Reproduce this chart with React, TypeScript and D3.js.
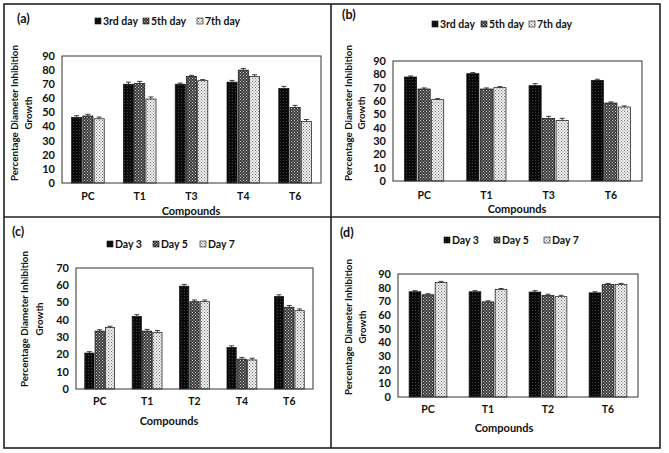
import * as d3 from "d3"

// categories per panel
const catsA = ["PC", "T1", "T3", "T4", "T6"]
const catsB = ["PC", "T1", "T3", "T6"]
const catsC = ["PC", "T1", "T2", "T4", "T6"]
const catsD = ["PC", "T1", "T2", "T6"]

// series names
const namesAB = ["3rd day", "5th day", "7th day"]
const namesCD = ["Day 3", "Day 5", "Day 7"]

// (a)
const a3 = [46.5, 70, 70, 71.5, 67]
const a5 = [47.5, 70.5, 75.5, 80, 53.5]
const a7 = [45.5, 59.5, 72.5, 75.5, 43.5]
const aErr = [1.2, 1.5, 0.8, 1.2, 1.5]

// (b)
const b3 = [78, 80.5, 71.5, 75.5]
const b5 = [69, 69, 47, 58.5]
const b7 = [61, 70, 45.5, 55.5]
const bErr = [0.8, 0.8, 1.5, 0.8]

// (c)
const c3 = [20.8, 42, 59.5, 24, 53.5]
const c5 = [33.5, 33.5, 50.5, 17.3, 47.3]
const c7 = [35.5, 32.8, 50.5, 16.8, 45.3]
const cErr = [0.8, 1, 1, 1, 1]

// (d)
const d3v = [77, 77, 76.8, 76.2]
const d5 = [74.8, 69.6, 74.2, 82.3]
const d7 = [83.8, 78.6, 73.4, 82.3]
const dErr = [0.8, 0.8, 1, 0.8]

const ticks90 = [0, 10, 20, 30, 40, 50, 60, 70, 80, 90]
const ticks70 = [0, 10, 20, 30, 40, 50, 60, 70]

const FONT = "Lato, 'DejaVu Sans', sans-serif"
const fills = ["url(#p3)", "url(#p5)", "url(#p7)"]

type Panel = {
  label: string
  labelPos: [number, number]
  cats: string[]
  series: number[][]
  err: number[]
  names: string[]
  ticks: number[]
  plot: { x0: number; x1: number; y0: number; y1: number }
  legendY: number
  legendX: number[]
  catY: number
  titlePos: [number, number]
  yTitle: { x: [number, number]; y: number }
}

const panels: Panel[] = [
  {
    label: "(a)", labelPos: [17, 23], cats: catsA, series: [a3, a5, a7], err: aErr, names: namesAB, ticks: ticks90,
    plot: { x0: 62, x1: 321, y0: 56, y1: 183 }, legendY: 21, legendX: [95, 143, 197],
    catY: 200, titlePos: [191, 215], yTitle: { x: [15, 29], y: 113 },
  },
  {
    label: "(b)", labelPos: [342, 19], cats: catsB, series: [b3, b5, b7], err: bErr, names: namesAB, ticks: ticks90,
    plot: { x0: 393, x1: 642, y0: 61, y1: 181 }, legendY: 24, legendX: [432, 481, 529],
    catY: 199, titlePos: [517, 213], yTitle: { x: [349, 362], y: 113 },
  },
  {
    label: "(c)", labelPos: [12, 236], cats: catsC, series: [c3, c5, c7], err: cErr, names: namesCD, ticks: ticks70,
    plot: { x0: 76, x1: 313, y0: 268, y1: 389 }, legendY: 244, legendX: [107, 153, 200],
    catY: 405, titlePos: [169, 425], yTitle: { x: [25, 40], y: 319 },
  },
  {
    label: "(d)", labelPos: [340, 237], cats: catsD, series: [d3v, d5, d7], err: dErr, names: namesCD, ticks: ticks90,
    plot: { x0: 398, x1: 638, y0: 274, y1: 397 }, legendY: 240, legendX: [444, 494, 544],
    catY: 413, titlePos: [504, 432], yTitle: { x: [349, 363], y: 327 },
  },
]

function ChartPanel({ p }: { p: Panel }) {
  const { x0, x1, y0, y1 } = p.plot
  const x = d3.scaleBand<string>().domain(p.cats).range([x0, x1]).paddingInner(0.37).paddingOuter(0.185)
  const xs = d3.scaleBand<number>().domain([0, 1, 2]).range([0, x.bandwidth()]).paddingInner(0.1)
  const y = d3.scaleLinear().domain([0, p.ticks[p.ticks.length - 1]]).range([y1, y0])

  return (
    <g fontFamily={FONT} fill="#111" fontWeight="bold">
      <text x={p.labelPos[0]} y={p.labelPos[1]} fontSize={12.5}>{p.label}</text>

      {/* legend */}
      {p.names.map((n, i) => (
        <g key={n}>
          <rect x={p.legendX[i]} y={p.legendY - 3} width={6} height={6} fill={fills[i]} stroke="#111" strokeWidth={0.6} />
          <text x={p.legendX[i] + 8} y={p.legendY + 3.7} fontSize={10.5}>{n}</text>
        </g>
      ))}

      {/* y axis title */}
      <g transform={`translate(${p.yTitle.x[0]},${p.yTitle.y}) rotate(-90)`}>
        <text textAnchor="middle" fontSize={9.8} dy="0.35em">Percentage Diameter Inhibition</text>
      </g>
      <g transform={`translate(${p.yTitle.x[1]},${p.yTitle.y}) rotate(-90)`}>
        <text textAnchor="middle" fontSize={9.8} dy="0.35em">Growth</text>
      </g>

      {/* y ticks */}
      {p.ticks.map((t) => (
        <text key={t} x={x0 - 7} y={y(t)} dy="0.35em" textAnchor="end" fontSize={11}>{t}</text>
      ))}

      {/* bars */}
      {p.cats.map((c, ci) => (
        <g key={c}>
          {p.series.map((s, si) => {
            const bx = (x(c) as number) + (xs(si) as number)
            const bw = xs.bandwidth()
            const v = s[ci]
            const e = p.err[ci]
            const cx = bx + bw / 2
            return (
              <g key={si}>
                <rect x={bx} y={y(v)} width={bw} height={y(0) - y(v)} fill={fills[si]} stroke="#111" strokeWidth={0.7} />
                <line x1={cx} x2={cx} y1={y(v)} y2={y(v + e)} stroke="#111" strokeWidth={0.8} />
                <line x1={cx - 2.5} x2={cx + 2.5} y1={y(v + e)} y2={y(v + e)} stroke="#111" strokeWidth={0.8} />
              </g>
            )
          })}
          <text x={(x(c) as number) + x.bandwidth() / 2} y={p.catY} textAnchor="middle" fontSize={10.5}>{c}</text>
        </g>
      ))}

      {/* plot border */}
      <rect x={x0} y={y0} width={x1 - x0} height={y1 - y0} fill="none" stroke="#333" strokeWidth={1} />

      <text x={p.titlePos[0]} y={p.titlePos[1]} textAnchor="middle" fontSize={11}>Compounds</text>
    </g>
  )
}

export default function App() {
  return (
    <svg width={669} height={453} style={{ position: "absolute", left: 0, top: 0, background: "#fff" }}>
      <defs>
        <pattern id="p3" width={3} height={3} patternUnits="userSpaceOnUse">
          <rect width={3} height={3} fill="#0a0a0a" />
          <rect x={1} y={1} width={0.7} height={0.7} fill="#777" />
        </pattern>
        <pattern id="p5" width={3} height={3} patternUnits="userSpaceOnUse">
          <rect width={3} height={3} fill="#3a3a3a" />
          <rect x={0} y={0} width={1} height={1} fill="#ccc" />
          <rect x={1.5} y={1.5} width={1} height={1} fill="#ccc" />
        </pattern>
        <pattern id="p7" width={3} height={3} patternUnits="userSpaceOnUse">
          <rect width={3} height={3} fill="#f2f2f2" />
          <rect x={0} y={0} width={0.9} height={0.9} fill="#555" />
          <rect x={1.5} y={1.5} width={0.9} height={0.9} fill="#555" />
        </pattern>
      </defs>
      <rect x={0} y={0} width={669} height={453} fill="#fff" />
      {panels.map((p) => (
        <ChartPanel key={p.label} p={p} />
      ))}
      {/* frame */}
      <rect x={4} y={4} width={656} height={444} fill="none" stroke="#222" strokeWidth={1.6} />
      <line x1={331} x2={331} y1={4} y2={448} stroke="#222" strokeWidth={1.6} />
      <line x1={4} x2={660} y1={217} y2={217} stroke="#222" strokeWidth={1.6} />
    </svg>
  )
}
